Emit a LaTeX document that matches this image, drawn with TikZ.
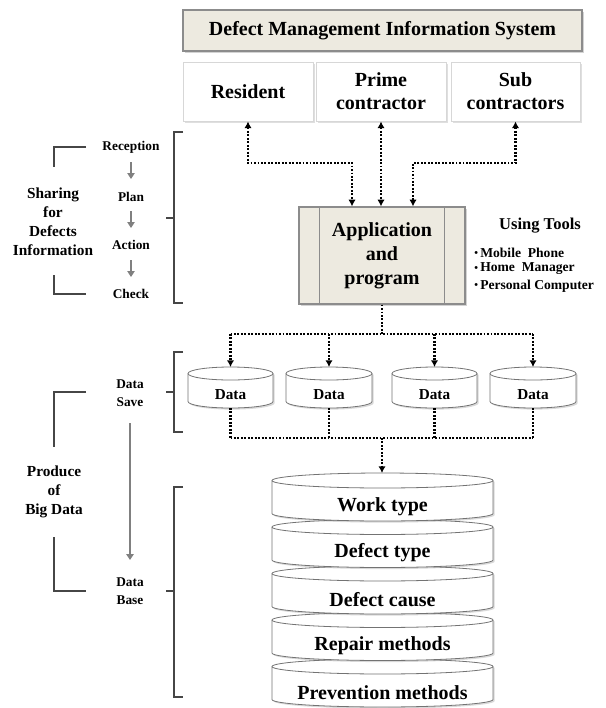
\documentclass[tikz,border=0pt]{standalone}
\usepackage{fontspec}
\setmainfont{Liberation Serif}
\usetikzlibrary{arrows.meta,shadows,calc}

\definecolor{panel}{RGB}{237,234,224}
\definecolor{panelline}{RGB}{140,140,140}
\definecolor{boxline}{RGB}{215,215,215}
\definecolor{bracketc}{RGB}{70,70,70}
\definecolor{flowgray}{RGB}{128,128,128}

% drum-shaped data store: name, centre x, top-ellipse centre y, body height, half width, ellipse y radius
\newcommand\drum[6]{%
  \filldraw[drumbody] (#2-#5,#3) -- (#2-#5,#3+#4)
    arc[start angle=180,end angle=360,x radius=#5*0.75pt,y radius=#6*0.75pt]
    -- (#2+#5,#3)
    arc[start angle=0,end angle=180,x radius=#5*0.75pt,y radius=#6*0.75pt] -- cycle;
  \draw[drumedge] (#2-#5,#3)
    arc[start angle=180,end angle=360,x radius=#5*0.75pt,y radius=#6*0.75pt];
  \coordinate (#1-top) at (#2,#3-#6);
  \coordinate (#1-bot) at (#2,#3+#4+#6);
}
\newcommand\tooldot{\raisebox{0.6pt}{\fontsize{8}{8}\selectfont\textbullet}\,}

\begin{document}
\begin{tikzpicture}[x=0.75pt,y=-0.75pt,
  every node/.style={font=\bfseries, inner sep=0pt, align=center},
  big/.style={font=\bfseries\fontsize{15}{17.25}\selectfont},
  titlebox/.style={big, draw=panelline, fill=panel, line width=0.9pt,
    drop shadow={shadow xshift=1.3pt,shadow yshift=-1.3pt,opacity=0.35},
    minimum width=299.25pt, minimum height=30.75pt},
  rolebox/.style={big, draw=boxline, fill=white, line width=0.7pt,
    drop shadow={shadow xshift=1.3pt,shadow yshift=-1.3pt,opacity=0.25},
    minimum width=97.5pt, minimum height=44.25pt},
  appbox/.style={draw=panelline, fill=panel, line width=0.9pt,
    drop shadow={shadow xshift=1.3pt,shadow yshift=-1.3pt,opacity=0.35},
    minimum width=124.5pt, minimum height=72.75pt,
    font=\bfseries\fontsize{15}{18}\selectfont},
  drumbody/.style={fill=white, draw=black!55, line width=0.6pt,
    drop shadow={shadow xshift=1.2pt,shadow yshift=-1.2pt,opacity=0.3}},
  drumedge/.style={draw=black!55, line width=0.6pt},
  dotlink/.style={line width=1.6pt, dash pattern=on 1.4pt off 1.2pt,
    >={Latex[length=5pt,width=5.5pt]}},
  brace/.style={draw=bracketc, line width=0.9pt},
  grayarrow/.style={draw=flowgray, line width=1.2pt,
    -{Triangle[length=4.5pt,width=5.5pt]}},
  step label/.style={font=\bfseries\fontsize{10}{13.5}\selectfont},
  group label/.style={font=\bfseries\fontsize{11.5}{14.25}\selectfont},
  tool label/.style={font=\bfseries\fontsize{10.2}{12}\selectfont, anchor=west}
]
\useasboundingbox (0,0) rectangle (606,708);

% header and stakeholders
\node[titlebox] (title) at (382.5,30.5) {Defect Management Information System};
\node[rolebox] (res)   at (248,91.5)   {Resident};
\node[rolebox] (prime) at (381,91.5)   {Prime\\contractor};
\node[rolebox, minimum width=96.75pt] (sub) at (515.5,91.5) {Sub\\contractors};

% application
\node[appbox] (app) at (382,255.5) {Application\\and\\program};
\draw[panelline, line width=0.9pt] ([xshift=15.75pt]app.north west) -- ([xshift=15.75pt]app.south west);
\draw[panelline, line width=0.9pt] ([xshift=-15.75pt]app.north east) -- ([xshift=-15.75pt]app.south east);

\node[font=\bfseries\fontsize{12.4}{14}\selectfont] (tools) at (540,226) {Using Tools};
\node[tool label] (tool1) at (474,253) {\tooldot Mobile\ \ Phone};
\node[tool label] (tool2) at (474,269) {\tooldot Home\ \ Manager};
\node[tool label] (tool3) at (474,286) {\tooldot Personal Computer};

% stakeholder <-> application links
\coordinate (kr) at (352,163);
\coordinate (ks) at (413,163);
\draw[dotlink,<->] (res.south) |- (kr) -- (kr |- app.north);
\draw[dotlink,<->] (prime.south) -- (prime.south |- app.north);
\draw[dotlink,<->] (sub.south) |- (ks) -- (ks |- app.north);

% data stores
\drum{d1}{230.5}{373.5}{28}{42.5}{6.5}
\drum{d2}{329}{373.5}{28}{43}{6.5}
\drum{d3}{434.5}{373.5}{28}{42.5}{6.5}
\drum{d4}{533}{373.5}{28}{43}{6.5}
\node[font=\bfseries\fontsize{11.4}{13}\selectfont] (data1) at (230.5,395) {Data};
\node[font=\bfseries\fontsize{11.4}{13}\selectfont] (data2) at (329,395) {Data};
\node[font=\bfseries\fontsize{11.4}{13}\selectfont] (data3) at (434.5,395) {Data};
\node[font=\bfseries\fontsize{11.4}{13}\selectfont] (data4) at (533,395) {Data};

% fan-out bus from the application to the stores
\coordinate (split) at (382,334);
\draw[dotlink] (app.south) -- (split);
\draw[dotlink] (d1-top |- split) -- (d4-top |- split);
\foreach \d in {d1,d2,d3,d4}{\draw[dotlink,->] (\d-top |- split) -- (\d-top);}

% database layers, drawn bottom-up
\drum{db5}{382.5}{666.5}{33}{110.5}{7.5}
\drum{db4}{382.5}{620}{33}{110.5}{7.5}
\drum{db3}{382.5}{573.5}{33}{110.5}{7.5}
\drum{db2}{382.5}{527}{33}{110.5}{7.5}
\drum{db1}{382.5}{480.5}{33}{110.5}{7.5}
\node[big] (work)    at (382.5,506.5) {Work type};
\node[big] (dtype)   at (382.5,553)   {Defect type};
\node[big] (dcause)  at (382.5,599.5) {Defect cause};
\node[big] (repair)  at (382.5,646)   {Repair methods};
\node[big] (prevent) at (382.5,692.5) {Prevention methods};

% collecting bus from the stores to the database
\coordinate (join) at (382,438);
\foreach \d in {d1,d2,d3,d4}{\draw[dotlink] (\d-bot) -- (\d-bot |- join);}
\draw[dotlink] (d1-bot |- join) -- (d4-bot |- join);
\draw[dotlink,->] (join) -- (join |- db1-top);

% brackets
\draw[brace] (183,132) -- (174,132) -- (174,303) -- (183,303);
\draw[brace] (174,218) -- (166,218);
\draw[brace] (183,352) -- (174,352) -- (174,432) -- (183,432);
\draw[brace] (174,392) -- (166,392);
\draw[brace] (183,487) -- (174,487) -- (174,697) -- (183,697);
\draw[brace] (174,591) -- (166,591);

% defect-sharing cycle
\node[step label] (rec)   at (131,147) {Reception};
\node[step label] (plan)  at (131,197) {Plan};
\node[step label] (act)   at (131,245) {Action};
\node[step label] (check) at (131,294) {Check};
\draw[grayarrow, shorten <=11.25pt, shorten >=13.5pt] (rec.center) -- (plan.center);
\draw[grayarrow, shorten <=10.5pt, shorten >=12.75pt] (plan.center) -- (act.center);
\draw[grayarrow, shorten <=11.25pt, shorten >=12.75pt] (act.center) -- (check.center);

\node[group label] (share) at (53,221.5) {Sharing\\for\\Defects\\Information};
\draw[brace] (86,147) -- (54,147) -- (54,167);
\draw[brace] (54,275) -- (54,294) -- (86,294);

% big-data production
\node[step label] (save) at (130,393)   {Data\\Save};
\node[step label] (base) at (130,591.5) {Data\\Base};
\draw[grayarrow, shorten <=22.5pt, shorten >=23.6pt] (save.center) -- (base.center);

\node[group label] (produce) at (54,492) {Produce\\of\\Big Data};
\draw[brace] (86,392) -- (54,392) -- (54,447);
\draw[brace] (54,537) -- (54,591) -- (86,591);
\end{tikzpicture}
\end{document}
